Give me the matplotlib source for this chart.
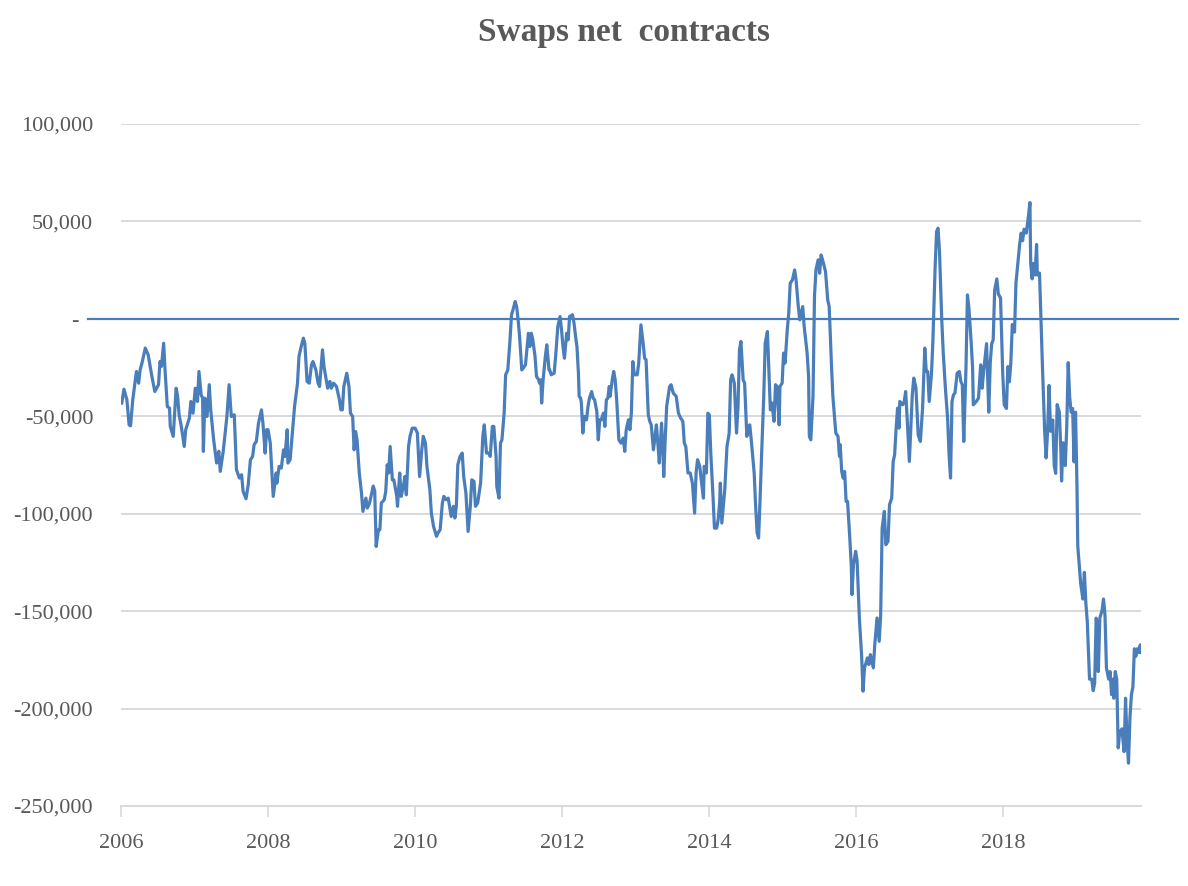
import matplotlib.pyplot as plt
import numpy as np
from matplotlib.lines import Line2D
from matplotlib.ticker import FuncFormatter
from matplotlib.transforms import blended_transform_factory, ScaledTranslation

plt.rcParams['font.family'] = ['Liberation Serif', 'DejaVu Serif']

# weekly swaps net positions, decimal year / thousand contracts
years = [
    2006.01, 2006.04, 2006.08, 2006.11, 2006.13, 2006.16, 2006.21, 2006.24, 2006.26, 2006.29,
    2006.33, 2006.37, 2006.42, 2006.46, 2006.51, 2006.53, 2006.55, 2006.58, 2006.60, 2006.63,
    2006.66, 2006.67, 2006.71, 2006.75, 2006.77, 2006.79, 2006.82, 2006.86, 2006.88, 2006.93,
    2006.95, 2006.98, 2007.01, 2007.04, 2007.06, 2007.09, 2007.11, 2007.12, 2007.14, 2007.17,
    2007.20, 2007.22, 2007.26, 2007.30, 2007.33, 2007.35, 2007.39, 2007.44, 2007.47, 2007.50,
    2007.54, 2007.57, 2007.61, 2007.64, 2007.66, 2007.70, 2007.73, 2007.76, 2007.79, 2007.81,
    2007.84, 2007.87, 2007.91, 2007.93, 2007.96, 2007.98, 2008.00, 2008.03,
    2008.07, 2008.11, 2008.12, 2008.15, 2008.18, 2008.21, 2008.23, 2008.26, 2008.27, 2008.30,
    2008.33, 2008.36, 2008.40, 2008.42, 2008.45, 2008.48, 2008.50, 2008.53, 2008.56, 2008.59,
    2008.61, 2008.65, 2008.68, 2008.70, 2008.74, 2008.76, 2008.79, 2008.81, 2008.84, 2008.86,
    2008.89, 2008.93, 2008.97, 2008.99, 2009.01, 2009.03, 2009.07, 2009.10, 2009.12, 2009.15,
    2009.17, 2009.19, 2009.21, 2009.24, 2009.27, 2009.29, 2009.33, 2009.35, 2009.38, 2009.43,
    2009.45, 2009.47, 2009.50, 2009.52, 2009.54, 2009.58, 2009.60, 2009.62, 2009.64, 2009.66,
    2009.69, 2009.71, 2009.75, 2009.76, 2009.79, 2009.81, 2009.84, 2009.86, 2009.88, 2009.91,
    2009.93, 2009.96, 2010.00, 2010.03, 2010.06, 2010.09, 2010.11, 2010.14, 2010.16, 2010.20,
    2010.22, 2010.25, 2010.29, 2010.31, 2010.34, 2010.37, 2010.39, 2010.42, 2010.45,
    2010.49, 2010.52, 2010.54, 2010.56, 2010.58, 2010.61, 2010.64, 2010.66, 2010.69, 2010.72,
    2010.75, 2010.77, 2010.80, 2010.82, 2010.85, 2010.89, 2010.92, 2010.94, 2010.97, 2011.00,
    2011.02, 2011.05, 2011.07, 2011.10, 2011.11, 2011.14, 2011.16, 2011.18, 2011.21, 2011.23,
    2011.26, 2011.29, 2011.31, 2011.33, 2011.36, 2011.38, 2011.40, 2011.42, 2011.45, 2011.47,
    2011.50, 2011.54, 2011.56, 2011.58, 2011.60, 2011.63, 2011.65, 2011.68, 2011.69, 2011.71,
    2011.72, 2011.74, 2011.77, 2011.79, 2011.82, 2011.83, 2011.85, 2011.89, 2011.91, 2011.94,
    2011.97, 2011.99, 2012.01, 2012.03, 2012.06, 2012.08, 2012.10, 2012.14, 2012.16, 2012.19,
    2012.20, 2012.22, 2012.23, 2012.25, 2012.26, 2012.28, 2012.30, 2012.33, 2012.35, 2012.37,
    2012.40, 2012.42, 2012.44, 2012.47, 2012.49, 2012.51, 2012.53, 2012.56, 2012.58, 2012.60,
    2012.62, 2012.64, 2012.65, 2012.68, 2012.70, 2012.72, 2012.74, 2012.77, 2012.80, 2012.83,
    2012.85, 2012.87, 2012.90, 2012.92,
    2012.94, 2012.96, 2012.98, 2013.02, 2013.04, 2013.07, 2013.10, 2013.12, 2013.14, 2013.17,
    2013.19, 2013.21, 2013.24, 2013.26, 2013.28, 2013.30, 2013.32, 2013.35, 2013.37, 2013.38,
    2013.40, 2013.42, 2013.46, 2013.48, 2013.51, 2013.55, 2013.58, 2013.61, 2013.64, 2013.66,
    2013.68, 2013.71, 2013.74, 2013.77, 2013.80, 2013.82, 2013.84, 2013.87, 2013.89, 2013.92,
    2013.93, 2013.96, 2013.98, 2014.00, 2014.02, 2014.05, 2014.07, 2014.10, 2014.12, 2014.14,
    2014.15, 2014.17, 2014.21, 2014.24, 2014.27, 2014.29, 2014.31, 2014.34, 2014.37, 2014.39,
    2014.41, 2014.43, 2014.46, 2014.48, 2014.51, 2014.53, 2014.55, 2014.57, 2014.61, 2014.63,
    2014.65, 2014.67, 2014.69,
    2014.71, 2014.74, 2014.76, 2014.79, 2014.81, 2014.83, 2014.85, 2014.88, 2014.90, 2014.92,
    2014.95, 2014.96, 2014.99, 2015.01, 2015.03, 2015.06, 2015.08, 2015.10, 2015.13, 2015.16,
    2015.18, 2015.21, 2015.23, 2015.25, 2015.27, 2015.29, 2015.33, 2015.35, 2015.36, 2015.38,
    2015.41, 2015.43, 2015.45, 2015.48, 2015.50, 2015.52, 2015.54, 2015.58, 2015.61, 2015.63,
    2015.66, 2015.68, 2015.72, 2015.75, 2015.77,
    2015.78, 2015.80, 2015.82, 2015.84, 2015.86, 2015.88, 2015.91, 2015.93, 2015.94, 2015.96,
    2015.99, 2016.01, 2016.04, 2016.07, 2016.09, 2016.11, 2016.15, 2016.17, 2016.19, 2016.23,
    2016.25, 2016.28, 2016.31, 2016.33, 2016.35, 2016.38, 2016.40, 2016.43, 2016.45, 2016.48,
    2016.50, 2016.52, 2016.54, 2016.56, 2016.58, 2016.59, 2016.63, 2016.65, 2016.67, 2016.69,
    2016.72, 2016.74, 2016.76, 2016.78, 2016.81, 2016.84, 2016.87, 2016.90, 2016.93, 2016.95,
    2016.97, 2016.99, 2017.02, 2017.04, 2017.07, 2017.09, 2017.11, 2017.13, 2017.16, 2017.18,
    2017.21, 2017.24, 2017.26, 2017.28, 2017.30, 2017.32, 2017.34, 2017.37, 2017.40, 2017.42,
    2017.44, 2017.46, 2017.49, 2017.51, 2017.53, 2017.56, 2017.58, 2017.59, 2017.63, 2017.66,
    2017.69, 2017.71, 2017.73,
    2017.77, 2017.80, 2017.82, 2017.84, 2017.86, 2017.88, 2017.91, 2017.93, 2017.96, 2017.99,
    2018.01, 2018.04, 2018.06, 2018.08, 2018.10, 2018.12, 2018.15, 2018.17, 2018.21, 2018.22,
    2018.24, 2018.26, 2018.28, 2018.31, 2018.33, 2018.36, 2018.37, 2018.39, 2018.40, 2018.43,
    2018.45, 2018.46, 2018.49, 2018.51, 2018.53, 2018.56, 2018.58, 2018.60, 2018.62, 2018.64,
    2018.67, 2018.69, 2018.71, 2018.73, 2018.76, 2018.78, 2018.79, 2018.81, 2018.84, 2018.86,
    2018.88, 2018.90, 2018.92, 2018.94, 2018.96, 2018.98, 2019.00, 2019.01, 2019.03, 2019.05,
    2019.08, 2019.10, 2019.12, 2019.14, 2019.17, 2019.20, 2019.22, 2019.24, 2019.26, 2019.28,
    2019.29, 2019.31, 2019.34, 2019.36, 2019.38, 2019.40, 2019.43, 2019.45, 2019.47, 2019.49,
    2019.50, 2019.52, 2019.54, 2019.56, 2019.58, 2019.61, 2019.64, 2019.66, 2019.68, 2019.70,
    2019.72, 2019.74, 2019.76, 2019.77, 2019.78, 2019.80, 2019.82, 2019.84, 2019.86, 2019.87,
]

net_k = [
    -43.2, -36.1, -41.5, -54.4, -54.9, -41.5, -27.0, -33.0, -26.2, -21.9,
    -15.0, -18.5, -29.6, -37.3, -33.8, -21.9, -24.4, -12.5, -27.0, -45.0,
    -45.8, -55.2, -60.3, -35.6, -39.8, -49.2, -55.2, -65.5, -56.9, -50.9,
    -42.4, -48.4, -35.6, -42.4, -27.0, -39.0, -40.7, -68.0, -40.7, -50.1,
    -33.8, -46.7, -62.1, -74.0, -68.0, -78.3, -68.0, -50.1, -33.8, -50.1,
    -49.2, -77.4, -81.7, -80.0, -88.5, -92.3, -85.1, -72.3, -70.6, -64.6,
    -62.9, -53.5, -46.7, -53.5, -68.9, -56.9, -56.9, -63.8,
    -91.1, -79.1, -84.3, -75.7, -76.6, -67.2, -70.6, -56.9, -74.0, -72.3,
    -58.6, -45.0, -33.0, -19.3, -14.2, -9.9, -12.5, -32.1, -33.0, -23.6,
    -21.9, -26.2, -33.0, -34.7, -15.9, -24.4, -31.3, -35.6, -32.1, -35.6,
    -33.0, -34.7, -41.5, -46.7, -46.7, -34.7, -27.9, -34.7, -48.4, -50.1,
    -67.2, -57.8, -62.1, -79.1, -89.4, -98.8, -92.0, -97.1, -94.5, -85.8,
    -88.4, -116.8, -108.2, -108.2, -94.5, -92.8, -88.5, -74.9, -79.1, -65.5,
    -82.6, -82.6, -91.1, -96.2, -79.1, -91.1, -86.0, -80.9, -90.3, -65.5,
    -60.3, -56.1, -56.1, -58.6, -80.9, -67.2, -60.3, -63.8, -75.7, -87.7,
    -99.7, -106.5, -111.6, -109.9, -108.2, -94.5, -91.1, -92.8, -92.0,
    -101.4, -96.2, -102.2, -96.2, -74.9, -70.6, -68.9, -80.9, -89.4, -109.1,
    -96.2, -82.6, -83.4, -96.2, -94.5, -84.3, -60.3, -54.4, -68.9, -68.9,
    -70.6, -55.2, -55.2, -70.6, -86.0, -92.0, -63.8, -62.1, -48.4, -28.7,
    -26.2, -10.8, 2.1, 4.6, 8.9, 6.3, -0.5, -9.1, -26.2, -25.3,
    -23.6, -7.4, -14.2, -7.4, -10.8, -19.3, -29.6, -31.3, -33.0, -31.3,
    -43.2, -31.3, -19.3, -13.3, -26.2, -26.2, -28.7, -27.9, -19.3, -3.9,
    1.2, -5.6, -14.2, -20.2, -7.4, -10.8, 1.2, 2.1, -2.2, -11.6,
    -14.2, -27.9, -39.8, -40.7, -43.2, -58.6, -50.1, -51.8, -45.0, -40.7,
    -37.3, -40.7, -41.5, -47.5, -62.1, -51.8, -51.8, -48.4, -55.2, -41.5,
    -40.7, -34.7, -39.8, -31.3, -27.0, -31.3, -41.5, -62.1, -63.8, -61.2,
    -68.0, -56.9, -51.8, -56.9,
    -48.4, -21.9, -28.7, -28.7, -22.7, -3.1, -12.5, -20.2, -21.0, -49.2,
    -52.6, -54.4, -67.2, -61.2, -54.4, -63.8, -74.0, -53.5, -67.2, -80.9,
    -62.1, -44.9, -34.7, -33.8, -38.1, -39.8, -48.4, -50.9, -52.6, -63.8,
    -65.5, -79.1, -79.1, -84.3, -99.7, -79.1, -72.3, -75.7, -82.6, -92.0,
    -75.7, -79.1, -48.4, -49.2, -68.9, -91.1, -107.4, -107.4, -103.1, -94.5,
    -84.3, -104.8, -87.7, -65.5, -58.6, -31.3, -28.7, -33.0, -58.6, -45.0,
    -15.9, -11.6, -31.3, -33.0, -60.3, -55.2, -54.4, -62.1, -79.1, -96.2,
    -109.9, -112.5, -92.8,
    -70.6, -39.8, -12.5, -6.5, -26.2, -46.7, -43.2, -52.6, -33.8, -34.7,
    -54.4, -34.7, -33.0, -17.6, -22.7, -5.6, 2.9, 18.3, 20.0, 25.1,
    20.0, 6.3, -0.5, 2.9, 6.3, -3.9, -17.6, -29.6, -60.3, -62.1,
    -39.8, 11.5, 25.1, 30.3, 23.4, 32.8, 30.3, 24.3, 9.7, 6.3,
    -22.7, -39.8, -58.6, -60.3, -70.6,
    -64.6, -78.3, -81.7, -78.3, -93.7, -93.7, -112.5, -126.2, -141.5, -126.2,
    -119.3, -124.4, -153.5, -172.3, -191.1, -179.1, -174.0, -177.4, -172.3, -179.1,
    -167.2, -153.5, -165.5, -151.8, -107.4, -98.8, -115.9, -114.2, -95.4, -92.0,
    -73.2, -69.7, -56.1, -45.8, -56.1, -42.4, -44.1, -42.4, -37.3, -50.9,
    -73.2, -56.1, -39.0, -30.4, -35.6, -59.5, -62.9, -45.8, -15.0, -27.0,
    -27.0, -42.4, -28.7, -11.6, 26.0, 44.8, 46.5, 34.5, 0.3, -16.8,
    -35.6, -50.9, -69.7, -81.7, -42.4, -39.0, -38.1, -27.9, -27.0, -32.1,
    -33.8, -62.9, -25.3, 12.3, 5.5, -11.6, -25.3, -44.1, -42.4, -40.7,
    -23.6, -35.6, -27.0,
    -12.7, -47.9, -22.5, -12.7, -10.8, 14.7, 20.5, 12.7, 10.8, -28.4,
    -44.0, -46.0, -24.5, -32.3, -22.5, -2.9, -6.8, 18.6, 34.2, 38.2,
    44.0, 40.1, 46.0, 44.0, 49.9, 59.7, 28.4, 20.5, 28.4, 22.5,
    38.2, 22.5, 23.5, -1.0, -24.5, -57.7, -71.4, -57.7, -34.2, -57.7,
    -51.9, -75.3, -79.3, -44.0, -47.9, -67.5, -83.2, -63.6, -75.3, -55.8,
    -22.5, -40.1, -47.9, -46.0, -73.4, -47.9, -87.1, -116.4, -126.2, -136.0,
    -143.8, -130.1, -145.8, -155.6, -184.9, -184.9, -190.8, -186.9, -153.6, -157.5,
    -181.0, -153.6, -149.7, -143.8, -151.7, -179.1, -184.9, -181.0, -192.8, -184.9,
    -194.7, -181.0, -184.9, -220.2, -212.3, -210.4, -222.1, -194.7, -216.2, -228.0,
    -204.5, -192.8, -188.8, -179.1, -169.3, -173.2, -169.3, -171.2, -167.3, -171.2,
]

y_ticks = [100000, 50000, 0, -50000, -100000, -150000, -200000, -250000]
x_ticks = [2006, 2008, 2010, 2012, 2014, 2016, 2018]

blue = '#4a7ebb'
grey_txt = '#595959'
grid_c = '#d9d9d9'

fig = plt.figure(figsize=(11.88, 8.86), dpi=100)
ax = fig.add_axes([121 / 1188, 1 - 806 / 886, 1020 / 1188, 682 / 886])

ax.plot(years, np.array(net_k) * 1000, color=blue, lw=2.3, solid_joinstyle='round', zorder=3)

ax.set_xlim(2006, 2019.87)
ax.set_ylim(-250000, 100000)
ax.set_yticks(y_ticks)
ax.yaxis.set_major_formatter(FuncFormatter(lambda v, p: '-' if v == 0 else f'{v:,.0f}'))
ax.set_xticks(x_ticks)
ax.set_xticklabels([str(t) for t in x_ticks])

ax.grid(axis='y', color=grid_c, lw=1.4, zorder=0)
for s in ['top', 'right', 'left']:
    ax.spines[s].set_visible(False)
ax.spines['bottom'].set_color(grid_c)
ax.spines['bottom'].set_linewidth(1.4)
ax.tick_params(axis='y', length=0, pad=20, labelsize=16, labelcolor=grey_txt)
ax.tick_params(axis='x', length=8, width=1.2, color=grid_c, pad=12, labelsize=16, labelcolor=grey_txt)

# the "-" (zero) label sits further left, as in accounting number format
zero_tick = ax.yaxis.get_major_ticks()[y_ticks.index(0)]
zero_tick.label1.set_transform(zero_tick.label1.get_transform()
                               + ScaledTranslation(-0.15, 0, fig.dpi_scale_trans))

# zero reference line, drawn wider than the plot area
trans = blended_transform_factory(fig.transFigure, ax.transData)
fig.add_artist(Line2D([88 / 1188, 1178 / 1188], [0, 0], transform=trans, color=blue, lw=1.6, zorder=4))

fig.text(0.525, 1 - 32 / 886, 'Swaps net  contracts', ha='center', va='center',
         fontsize=24, fontweight='bold', color=grey_txt)

fig.savefig('out.png', dpi=100)
